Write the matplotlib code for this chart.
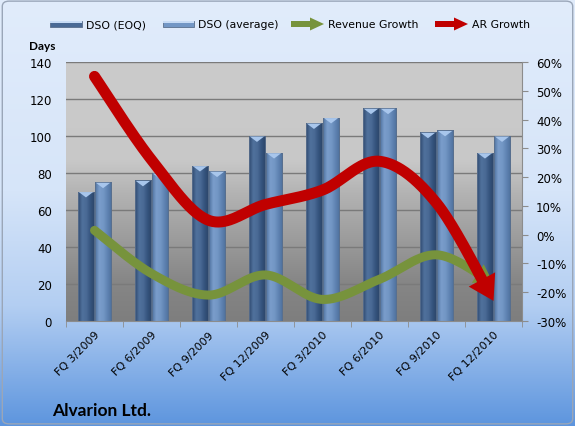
"""DSO vs. growth chart for Alvarion Ltd., drawn to out.png."""
import numpy as np
import matplotlib.pyplot as plt
from matplotlib.colors import LinearSegmentedColormap
from matplotlib.patches import FancyBboxPatch, Polygon, Rectangle

quarters = ["FQ 3/2009", "FQ 6/2009", "FQ 9/2009", "FQ 12/2009",
            "FQ 3/2010", "FQ 6/2010", "FQ 9/2010", "FQ 12/2010"]
dso_eoq = [70, 76, 84, 100, 107, 115, 102, 91]
dso_avg = [75, 80, 81, 91, 110, 115, 103, 100]
revenue_growth = [1.5, -13.5, -21, -14, -22.5, -15.5, -7, -17]   # percent
ar_growth = [55, 26, 5, 10.5, 15.5, 25.5, 11, -23]               # percent

W, H = 575, 427
TICK_FONT = "DejaVu Sans"
TITLE_FONT = "Lato"

fig = plt.figure(figsize=(W / 100, H / 100), dpi=100)


def fx(x):
    return x / W


def fy(y):
    return 1 - y / H


# figure background: light blue fading to a stronger blue at the bottom
bg = fig.add_axes([0, 0, 1, 1], zorder=-10)
bg_cmap = LinearSegmentedColormap.from_list(
    "bg", [(0, "#e1ecfb"), (0.45, "#d6e5f9"), (0.72, "#b3cef2"), (1, "#5d95de")])
bg.imshow(np.linspace(0, 1, 256)[:, None], cmap=bg_cmap, aspect="auto",
          extent=[0, 1, 0, 1])
bg.set_xlim(0, 1)
bg.set_ylim(0, 1)
bg.axis("off")
bg.add_patch(FancyBboxPatch((0.004, 0.005), 0.992, 0.99,
                            boxstyle="round,pad=0,rounding_size=0.012",
                            fill=False, ec="#9aa6b8", lw=1.0))

ax = fig.add_axes([fx(66), fy(322), fx(522 - 66), (322 - 63) / H])
n = len(quarters)
x = np.arange(n)
ax.set_xlim(-0.5, n - 0.5)
ax.set_ylim(0, 140)

# plot area: flat grey at the top, darkening towards the base
plot_cmap = LinearSegmentedColormap.from_list(
    "plot", [(0, "#7e7e7e"), (0.15, "#868686"), (0.5, "#b4b4b4"),
             (0.62, "#c8c8c8"), (1, "#cbcbcb")])
ax.imshow(np.linspace(0, 1, 256)[:, None], cmap=plot_cmap, aspect="auto",
          origin="lower", extent=[-0.5, n - 0.5, 0, 140], zorder=0)
for g in range(20, 141, 20):
    ax.axhline(g, color="#7a7a7a", lw=1.0, zorder=0.5)

bar_w = 0.29
eoq_cmap = LinearSegmentedColormap.from_list(
    "eoq", ["#2e4a70", "#50719c", "#4a6a95", "#34537d", "#2c4568"])
avg_cmap = LinearSegmentedColormap.from_list(
    "avg", ["#4f729f", "#7a9dcb", "#7397c5", "#5f83b2", "#4d6f9b"])


def draw_bars(centers, values, cmap):
    for c, v in zip(centers, values):
        left = c - bar_w / 2
        rect = Rectangle((left, 0), bar_w, v, fc="none", ec="#5a6f8c",
                         lw=0.6, zorder=3)
        ax.add_patch(rect)
        im = ax.imshow(np.linspace(0, 1, 64)[None, :], cmap=cmap,
                       aspect="auto", extent=[left, left + bar_w, 0, v],
                       zorder=2)
        im.set_clip_path(rect)
        # light bevel at the top of each bar
        ax.add_patch(Polygon([(left + 0.02, v - 0.3), (left + bar_w - 0.02, v - 0.3),
                              (c, v - 3.2)], closed=True, fc="#a8c6ec",
                             ec="none", zorder=3))


draw_bars(x - 0.15, dso_eoq, eoq_cmap)
draw_bars(x + 0.15, dso_avg, avg_cmap)
ax.set_xlim(-0.5, n - 0.5)
ax.set_ylim(0, 140)

for side in ["top", "right", "left"]:
    ax.spines[side].set_visible(False)
ax.spines["bottom"].set_color("#8c8c8c")
ax.set_yticks(range(0, 141, 20))
ax.tick_params(axis="y", length=0, pad=10, labelsize=8.5, colors="#000000")
ax.set_xticks(x)
ax.set_xticklabels(quarters, rotation=45, ha="right", va="top",
                   rotation_mode="anchor", fontsize=8, family=TICK_FONT)
ax.set_xticks(np.arange(-0.5, n), minor=True)
ax.tick_params(axis="x", which="major", length=0, pad=6)
ax.tick_params(axis="x", which="minor", length=4, color="#8c8c8c")
for lab in ax.get_yticklabels():
    lab.set_family(TICK_FONT)

ax2 = ax.twinx()
ax2.set_ylim(-30, 60)
ax2.set_yticks(range(-30, 61, 10))
ax2.set_yticklabels([f"{v}%" for v in range(-30, 61, 10)], family=TICK_FONT)
ax2.tick_params(axis="y", length=4, color="#8c8c8c", labelsize=8.5, pad=6)
for side in ["top", "left", "bottom"]:
    ax2.spines[side].set_visible(False)
ax2.spines["right"].set_color("#8c8c8c")
ax2.set_xlim(-0.5, n - 0.5)


def smooth(xs, ys, steps=40):
    p = np.column_stack([xs, ys]).astype(float)
    p = np.vstack([p[0], p, p[-1]])
    out = []
    t = np.linspace(0, 1, steps, endpoint=False)[:, None]
    for i in range(1, len(p) - 2):
        p0, p1, p2, p3 = p[i - 1], p[i], p[i + 1], p[i + 2]
        c1 = p1 + (p2 - p0) / 6
        c2 = p2 - (p3 - p1) / 6
        out.append((1 - t) ** 3 * p1 + 3 * (1 - t) ** 2 * t * c1
                   + 3 * (1 - t) * t ** 2 * c2 + t ** 3 * p2)
    out.append(p[-2][None])
    return np.vstack(out)


def arrow_line(target, xs, ys, color, lw_px, head_len, head_w, zorder):
    curve = target.transData.transform(smooth(xs, ys))
    seg = np.hypot(*np.diff(curve, axis=0).T)
    back = np.cumsum(seg[::-1])
    k = len(curve) - 1 - np.searchsorted(back, head_len)
    base = curve[k]
    tip = curve[-1]
    d = (tip - base) / np.hypot(*(tip - base))
    nrm = np.array([-d[1], d[0]])
    shaft = np.vstack([curve[:k + 1], base + d * 2])
    inv = target.transData.inverted()
    sx, sy = inv.transform(shaft).T
    target.plot(sx, sy, color=color, lw=lw_px * 0.72, solid_capstyle="round",
                solid_joinstyle="round", zorder=zorder)
    head = np.array([base + nrm * head_w / 2, tip, base - nrm * head_w / 2])
    target.add_patch(Polygon(inv.transform(head), closed=True, fc=color,
                             ec="none", zorder=zorder))


arrow_line(ax2, x, revenue_growth, "#77933c", 9, 20, 22, 4)
arrow_line(ax2, x, ar_growth, "#c00000", 11, 26, 30, 5)

# legend along the top
legend_y = 25
legend_size = 7.8


def legend_bar(x0, x1, cmap, label):
    r = Rectangle((fx(x0), fy(legend_y + 3)), fx(x1 - x0), 6 / H,
                  transform=fig.transFigure, fc=cmap(0.5), ec="#5a6f8c",
                  lw=0.6)
    fig.add_artist(r)
    fig.add_artist(Rectangle((fx(x0), fy(legend_y - 1)), fx(x1 - x0), 2 / H,
                             transform=fig.transFigure, fc="#c8dcf5",
                             ec="none"))
    fig.text(fx(x1 + 4), fy(legend_y), label, fontsize=legend_size,
             family=TICK_FONT, va="center", ha="left")


def legend_arrow(x0, x1, color, label):
    fig.add_artist(Rectangle((fx(x0), fy(legend_y + 3)), fx(x1 - 13 - x0),
                             6 / H, transform=fig.transFigure, fc=color,
                             ec="none"))
    fig.add_artist(Polygon([(fx(x1 - 14), fy(legend_y - 6.5)), (fx(x1), fy(legend_y)),
                            (fx(x1 - 14), fy(legend_y + 6.5))], closed=True,
                           transform=fig.transFigure, fc=color, ec="none"))
    fig.text(fx(x1 + 4), fy(legend_y), label, fontsize=legend_size,
             family=TICK_FONT, va="center", ha="left")


legend_bar(50, 82, eoq_cmap, "DSO (EOQ)")
legend_bar(163, 194, avg_cmap, "DSO (average)")
legend_arrow(291, 324, "#77933c", "Revenue Growth")
legend_arrow(435, 468, "#c00000", "AR Growth")

fig.text(fx(29), fy(47), "Days", fontsize=8.5, fontweight="bold",
         family=TITLE_FONT, va="center", ha="left")
fig.text(fx(52), fy(411), "Alvarion Ltd.", fontsize=12.5, fontweight="bold",
         family=TITLE_FONT, va="center", ha="left")

fig.savefig("out.png", dpi=100)
